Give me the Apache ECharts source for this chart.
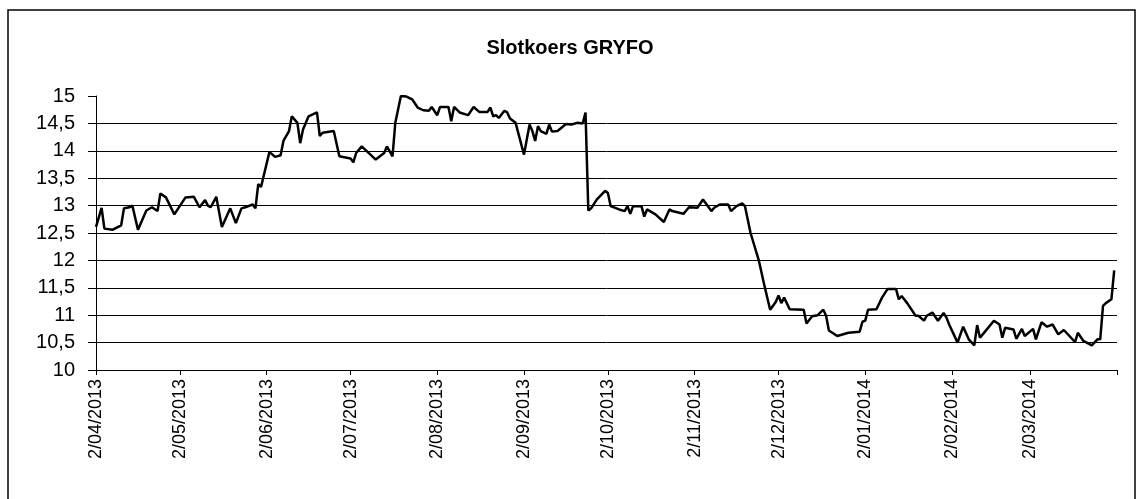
<!DOCTYPE html>
<html>
<head>
<meta charset="utf-8">
<script src="https://cdn.jsdelivr.net/npm/echarts@6/dist/echarts.min.js"></script>
<style>
  html, body { margin: 0; padding: 0; background: #fff; }
  #chart { width: 1140px; height: 499px; }
</style>
</head>
<body>
<div id="chart"></div>
<script>
// axis range (calendar days, first label on 2/04/2013)
const startDate = '2013-04-02';
const endDate = '2014-04-02';

// closing prices
const priceDates = [
  '2013-04-02', '2013-04-04', '2013-04-05', '2013-04-08', '2013-04-11', '2013-04-12', '2013-04-14', '2013-04-15',
  '2013-04-17', '2013-04-20', '2013-04-22', '2013-04-24', '2013-04-25', '2013-04-27', '2013-04-30',
  '2013-05-04', '2013-05-07', '2013-05-09', '2013-05-11', '2013-05-12', '2013-05-13', '2013-05-15', '2013-05-17',
  '2013-05-20', '2013-05-22', '2013-05-24', '2013-05-26', '2013-05-28', '2013-05-29', '2013-05-30', '2013-05-31',
  '2013-06-03', '2013-06-05', '2013-06-07', '2013-06-08', '2013-06-10', '2013-06-11', '2013-06-13', '2013-06-14',
  '2013-06-15', '2013-06-17', '2013-06-20', '2013-06-21', '2013-06-22', '2013-06-26', '2013-06-28',
  '2013-07-02', '2013-07-03', '2013-07-04', '2013-07-06', '2013-07-11', '2013-07-14', '2013-07-15', '2013-07-17',
  '2013-07-18', '2013-07-20', '2013-07-22', '2013-07-24', '2013-07-26', '2013-07-28', '2013-07-30', '2013-07-31',
  '2013-08-02', '2013-08-03', '2013-08-06', '2013-08-07', '2013-08-08', '2013-08-10', '2013-08-13', '2013-08-15',
  '2013-08-17', '2013-08-20', '2013-08-21', '2013-08-22', '2013-08-23', '2013-08-24', '2013-08-26', '2013-08-27',
  '2013-08-28', '2013-08-30',
  '2013-09-02', '2013-09-04', '2013-09-05', '2013-09-06', '2013-09-07', '2013-09-08', '2013-09-10', '2013-09-11',
  '2013-09-12', '2013-09-14', '2013-09-17', '2013-09-19', '2013-09-21', '2013-09-23', '2013-09-24', '2013-09-25',
  '2013-09-26', '2013-09-28',
  '2013-10-01', '2013-10-02', '2013-10-03', '2013-10-06', '2013-10-08', '2013-10-09', '2013-10-10', '2013-10-11',
  '2013-10-14', '2013-10-15', '2013-10-16', '2013-10-19', '2013-10-22', '2013-10-24', '2013-10-25', '2013-10-29',
  '2013-10-31',
  '2013-11-03', '2013-11-05', '2013-11-08', '2013-11-09', '2013-11-11', '2013-11-14', '2013-11-15', '2013-11-17',
  '2013-11-19', '2013-11-20', '2013-11-22', '2013-11-25', '2013-11-27', '2013-11-29',
  '2013-12-01', '2013-12-02', '2013-12-03', '2013-12-04', '2013-12-06', '2013-12-11', '2013-12-12', '2013-12-14',
  '2013-12-16', '2013-12-18', '2013-12-19', '2013-12-20', '2013-12-23', '2013-12-27', '2013-12-31',
  '2014-01-01', '2014-01-02', '2014-01-03', '2014-01-06', '2014-01-08', '2014-01-10', '2014-01-13', '2014-01-14',
  '2014-01-15', '2014-01-17', '2014-01-20', '2014-01-21', '2014-01-23', '2014-01-24', '2014-01-26', '2014-01-28',
  '2014-01-30', '2014-01-31',
  '2014-02-01', '2014-02-04', '2014-02-06', '2014-02-08', '2014-02-10', '2014-02-11', '2014-02-12', '2014-02-13',
  '2014-02-17', '2014-02-19', '2014-02-20', '2014-02-21', '2014-02-24', '2014-02-25', '2014-02-27', '2014-02-28',
  '2014-03-03', '2014-03-04', '2014-03-06', '2014-03-08', '2014-03-10', '2014-03-12', '2014-03-14', '2014-03-16',
  '2014-03-18', '2014-03-19', '2014-03-21', '2014-03-24', '2014-03-26', '2014-03-27', '2014-03-28', '2014-03-29',
  '2014-03-31', '2014-04-01'
];
const prices = [
  12.61, 12.96, 12.58, 12.56, 12.64, 12.95, 12.97, 13.0,
  12.56, 12.91, 12.97, 12.9, 13.22, 13.15, 12.84,
  13.15, 13.16, 12.97, 13.1, 13.0, 12.97, 13.16, 12.61,
  12.95, 12.68, 12.95, 12.98, 13.02, 12.95, 13.39, 13.34,
  13.98, 13.89, 13.92, 14.18, 14.36, 14.63, 14.51, 14.14,
  14.39, 14.63, 14.7, 14.27, 14.33, 14.36, 13.9,
  13.86, 13.79, 13.96, 14.08, 13.84, 13.96, 14.08, 13.9,
  14.51, 15.0, 14.99, 14.94, 14.79, 14.74, 14.73, 14.8,
  14.65, 14.8, 14.8, 14.54, 14.8, 14.7, 14.65, 14.8,
  14.71, 14.71, 14.79, 14.63, 14.65, 14.6, 14.73, 14.7,
  14.59, 14.51,
  13.93, 14.48, 14.36, 14.18, 14.45, 14.36, 14.31, 14.48,
  14.35, 14.36, 14.49, 14.48, 14.51, 14.5, 14.7, 12.91,
  12.95, 13.11,
  13.27, 13.23, 12.99, 12.93, 12.9, 12.99, 12.85, 12.99,
  12.99, 12.8, 12.93, 12.84, 12.7, 12.93, 12.9, 12.85,
  12.97,
  12.96, 13.11, 12.9, 12.96, 13.02, 13.02, 12.9, 12.99,
  13.04, 12.99, 12.5, 11.99, 11.53, 11.1,
  11.24, 11.36, 11.22, 11.32, 11.11, 11.1, 10.85, 10.98,
  11.0, 11.1, 10.99, 10.72, 10.62, 10.68, 10.7,
  10.88, 10.9, 11.1, 11.11, 11.32, 11.48, 11.48, 11.29,
  11.35, 11.22, 10.99, 10.99, 10.9, 10.99, 11.05, 10.9,
  11.04, 10.96,
  10.83, 10.5, 10.79, 10.56, 10.45, 10.82, 10.59, 10.65,
  10.9, 10.83, 10.59, 10.77, 10.74, 10.57, 10.75, 10.62,
  10.75, 10.56, 10.87, 10.79, 10.83, 10.65, 10.73, 10.62,
  10.51, 10.68, 10.53, 10.45, 10.56, 10.56, 11.17, 11.22,
  11.29, 11.82
];

const yMin = 10;
const yMax = 15;
const yStep = 0.5;

function buildDays(from, to) {
  let days = [];
  let t = Date.parse(from + 'T00:00:00Z');
  let end = Date.parse(to + 'T00:00:00Z');
  while (t <= end) {
    days.push(new Date(t).toISOString().slice(0, 10));
    t += 86400000;
  }
  return days;
}

function buildSerie(days) {
  let m = {};
  for (var i in priceDates) {
    m[priceDates[i]] = prices[i];
  }
  return days.map(d => (d in m ? m[d] : null));
}

const days = buildDays(startDate, endDate);

// tick on the 2nd of every month, label too except at the axis end
function isMonthMark(index, value) {
  return value.slice(8) === '02';
}
function isMonthLabel(index, value) {
  return isMonthMark(index, value) && index < days.length - 1;
}

function toDutchDate(value) {
  let p = value.split('-');
  return parseInt(p[2]) + '/' + p[1] + '/' + p[0];
}

const option = {
  backgroundColor: '#fff',
  animation: false,
  title: {
    text: 'Slotkoers GRYFO',
    left: 'center',
    top: 33,
    textStyle: {
      fontFamily: 'Liberation Sans',
      fontWeight: 'bold',
      fontSize: 20,
      color: '#000'
    }
  },
  graphic: [{
    type: 'rect',
    shape: { x: 8, y: 10, width: 1127, height: 495 },
    style: { fill: 'none', stroke: '#000', lineWidth: 1.5 },
    silent: true
  }],
  grid: {
    left: 96,
    right: 23,
    top: 96,
    bottom: 129
  },
  xAxis: {
    type: 'category',
    data: days,
    boundaryGap: false,
    axisLine: { lineStyle: { color: '#000', width: 1 } },
    axisTick: {
      interval: isMonthMark,
      length: 5,
      lineStyle: { color: '#000' }
    },
    axisLabel: {
      interval: isMonthLabel,
      rotate: 90,
      margin: 9,
      formatter: toDutchDate,
      fontFamily: 'Liberation Sans',
      fontSize: 18,
      color: '#000'
    },
    splitLine: { show: false }
  },
  yAxis: {
    type: 'value',
    min: yMin,
    max: yMax,
    interval: yStep,
    axisLine: { show: true, lineStyle: { color: '#000', width: 1 } },
    axisTick: { show: true, length: 8, lineStyle: { color: '#000' } },
    axisLabel: {
      margin: 21,
      formatter: v => String(v).replace('.', ','),
      fontFamily: 'Liberation Sans',
      fontSize: 20,
      color: '#000'
    },
    splitLine: {
      show: true,
      showMaxLine: false,
      lineStyle: { color: '#000', width: 1 }
    }
  },
  series: [{
    name: 'Slotkoers',
    type: 'line',
    data: buildSerie(days),
    connectNulls: true,
    showSymbol: false,
    lineStyle: { color: '#000', width: 2.5 }
  }]
};

const chart = echarts.init(document.getElementById('chart'));
chart.setOption(option);
</script>
</body>
</html>
